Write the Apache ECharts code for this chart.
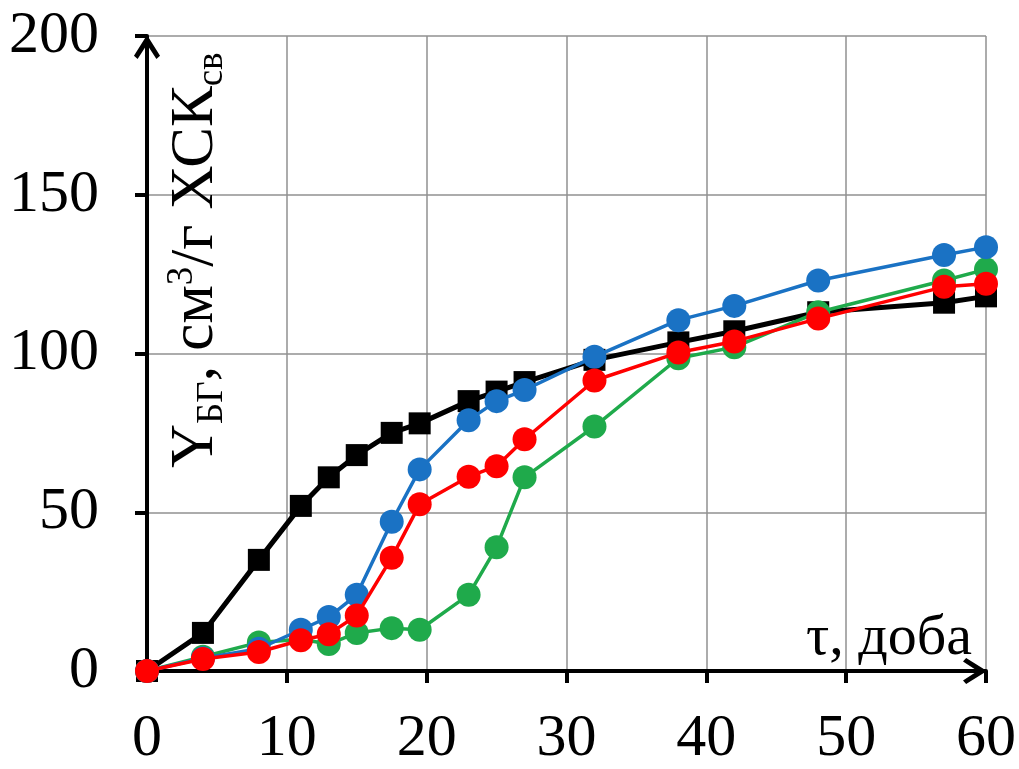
<!DOCTYPE html>
<html>
<head>
<meta charset="utf-8">
<script src="https://cdn.jsdelivr.net/npm/echarts@6/dist/echarts.min.js"></script>
<style>
  html, body { margin: 0; padding: 0; background: #fff; }
  #chart { width: 1019px; height: 769px; }
</style>
</head>
<body>
<div id="chart"></div>
<script>
// час, доба
const days = [0, 4, 8, 11, 13, 15, 17.5, 19.5, 23, 25, 27, 32, 38, 42, 48, 57, 60];
// вихід біогазу, см3/г ХСК
const blackVals = [0, 12, 35, 52, 61, 68, 75, 78, 85, 88, 91, 98, 103.5, 107, 113, 116, 118];
const greenVals = [0, 4.5, 9, 10, 8.5, 12, 13.5, 13, 24, 39, 61, 77, 98.5, 102, 113, 123, 126.5];
const blueVals  = [0, 4, 7, 13, 17, 24, 47, 63.5, 79, 85, 88.5, 99, 110.5, 115, 123, 131, 133.5];
const redVals   = [0, 3.8, 6, 9.7, 11.6, 17.5, 35.7, 52.5, 61.2, 64.5, 73, 91.5, 100.3, 103.8, 111, 121, 122];
const xTicks = [0, 10, 20, 30, 40, 50, 60];
const yTicks = [0, 50, 100, 150, 200];

const pairs = vals => days.map((d, i) => [d, vals[i]]);
const chevron = 'path://M5,0 L10,8 L8.6,9.2 L5,3.6 L1.4,9.2 L0,8 Z';
const serif = '"Liberation Serif", "DejaVu Serif", serif';

const chart = echarts.init(document.getElementById('chart'));

const axisCommon = {
  type: 'value',
  axisLine: {
    show: true,
    lineStyle: { color: '#000', width: 4 },
    symbol: ['none', chevron],
    symbolSize: [28, 24],
    symbolOffset: [0, -11]
  },
  axisTick: { show: true, length: 12, lineStyle: { color: '#000', width: 4 } },
  splitLine: { show: true, lineStyle: { color: '#909090', width: 1.5 } },
  axisLabel: { color: '#000', fontFamily: serif, fontSize: 60 }
};

function series(vals, color, symbol, size, width, z) {
  return {
    type: 'line',
    data: pairs(vals),
    symbol: symbol,
    symbolSize: size,
    z: z,
    lineStyle: { color: color, width: width },
    itemStyle: { color: color, borderWidth: 0 },
    emphasis: { disabled: true }
  };
}

chart.setOption({
  animation: false,
  grid: { left: 147, right: 33, top: 36, bottom: 95 },
  xAxis: Object.assign({}, axisCommon, {
    min: 0, max: 60, interval: 10,
    axisLabel: Object.assign({}, axisCommon.axisLabel, {
      margin: 38,
      formatter: v => xTicks.includes(v) ? String(v) : ''
    })
  }),
  yAxis: Object.assign({}, axisCommon, {
    min: 0, max: 200, interval: 50,
    axisLabel: Object.assign({}, axisCommon.axisLabel, {
      margin: 48,
      formatter: v => yTicks.includes(v) ? String(v) : ''
    })
  }),
  graphic: [
    {
      type: 'text',
      x: 160, y: 468,
      rotation: Math.PI / 2,
      z: 100,
      style: {
        text: '{n|Y}{s|БГ}{n|, см}{p|3}{n|/г ХСК}{s|св}',
        fill: '#000',
        rich: {
          n: { fontFamily: serif, fontSize: 61, fill: '#000' },
          s: { fontFamily: serif, fontSize: 37, fill: '#000', padding: [34, 0, 0, 0] },
          p: { fontFamily: serif, fontSize: 37, fill: '#000', padding: [0, 0, 27, 0] }
        }
      }
    },
    {
      type: 'text',
      left: 806, top: 610,
      z: 100,
      style: {
        text: 'τ, доба',
        fill: '#000',
        font: '58px ' + serif
      }
    }
  ],
  series: [
    series(blackVals, '#000000', 'rect', 22, 5, 2),
    series(greenVals, '#1faa4b', 'circle', 24, 3.5, 3),
    series(blueVals, '#1a72c4', 'circle', 24, 3.5, 4),
    series(redVals, '#ff0000', 'circle', 24, 3.5, 5)
  ]
});
</script>
</body>
</html>
